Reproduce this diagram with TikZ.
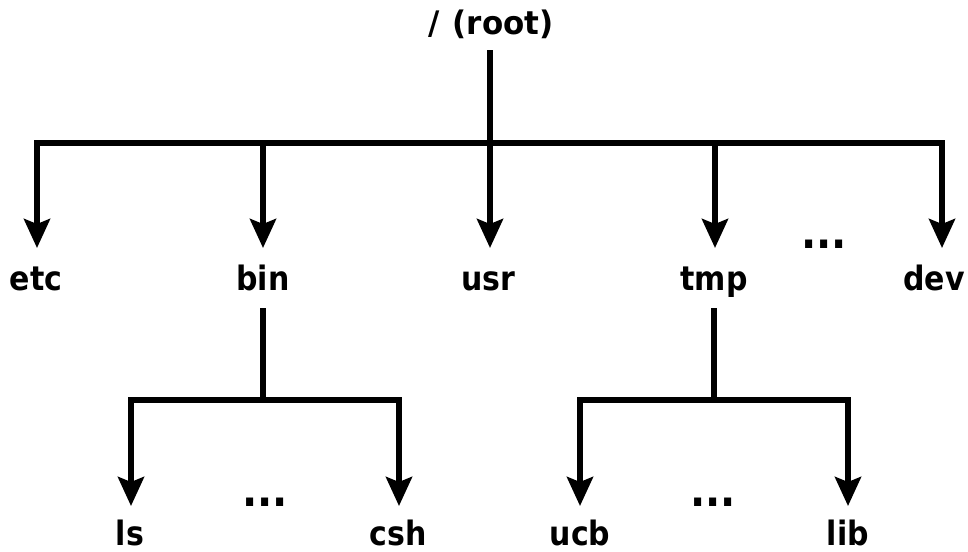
\documentclass[tikz,border=0pt]{standalone}
\usepackage{fontspec}
\usepackage{graphicx}
\setmainfont{DejaVu Sans}
\usetikzlibrary{arrows.meta}
\newcommand{\tallbox}[1]{\scalebox{1}[1.12]{#1}}
\begin{document}
\begin{tikzpicture}[x=1pt,y=-1pt,
  lbl/.style={font=\fontsize{30}{34}\selectfont\bfseries, anchor=base, inner sep=0pt},
  link/.style={line width=5.5pt, line cap=rect},
  arr/.style={line width=5.5pt, -{Stealth[length=29pt,width=26pt,inset=5pt]}}]
\useasboundingbox (0,0) rectangle (968,551);
% labels
\node[lbl] (root) at (491,35) {\scalebox{1.03}[1.08]{/\hspace{0.42em}(root)}};
\node[lbl] (etc) at (36,290) {\tallbox{etc}};
\node[lbl] (bin) at (263,290) {\tallbox{bin}};
\node[lbl] (usr) at (488,290) {\tallbox{usr}};
\node[lbl] (tmp) at (714,290) {\tallbox{tmp}};
\node[lbl] (dots1) at (824,248) {\tallbox{\fontsize{40}{44}\selectfont ...}};
\node[lbl] (dev) at (934,290) {\tallbox{dev}};
\node[lbl] (ls) at (130,545) {\tallbox{ls}};
\node[lbl] (dots2) at (265,506) {\tallbox{\fontsize{40}{44}\selectfont ...}};
\node[lbl] (csh) at (398,545) {\tallbox{csh}};
\node[lbl] (ucb) at (580,545) {\tallbox{ucb}};
\node[lbl] (dots3) at (713,506) {\tallbox{\fontsize{40}{44}\selectfont ...}};
\node[lbl] (lib) at (848,545) {\tallbox{lib}};
% junction coordinates
\coordinate (rootb) at (490,53);
\coordinate (j0) at (490,143);
\coordinate (jl) at (37,143);
\coordinate (jr) at (942,143);
\coordinate (j1) at (263,143);
\coordinate (j2) at (715,143);
\coordinate (binb) at (263,311);
\coordinate (jb) at (263,400);
\coordinate (jbl) at (131,400);
\coordinate (jbr) at (399,400);
\coordinate (tmpb) at (714,311);
\coordinate (jt) at (714,400);
\coordinate (jtl) at (580,400);
\coordinate (jtr) at (848,400);
% tips
\coordinate (tetc) at (37,248);
\coordinate (tbin) at (263,248);
\coordinate (tusr) at (490,248);
\coordinate (ttmp) at (715,248);
\coordinate (tdev) at (942,248);
\coordinate (tls) at (131,506);
\coordinate (tcsh) at (399,506);
\coordinate (tucb) at (580,506);
\coordinate (tlib) at (848,506);
% connectors
\draw[link] (rootb) -- (j0);
\draw[link] (jl) -- (jr);
\draw[arr] (jl) -- (tetc);
\draw[arr] (j1) -- (tbin);
\draw[arr] (j0) -- (tusr);
\draw[arr] (j2) -- (ttmp);
\draw[arr] (jr) -- (tdev);
\draw[link] (binb) -- (jb);
\draw[link] (jbl) -- (jbr);
\draw[arr] (jbl) -- (tls);
\draw[arr] (jbr) -- (tcsh);
\draw[link] (tmpb) -- (jt);
\draw[link] (jtl) -- (jtr);
\draw[arr] (jtl) -- (tucb);
\draw[arr] (jtr) -- (tlib);
\end{tikzpicture}
\end{document}
